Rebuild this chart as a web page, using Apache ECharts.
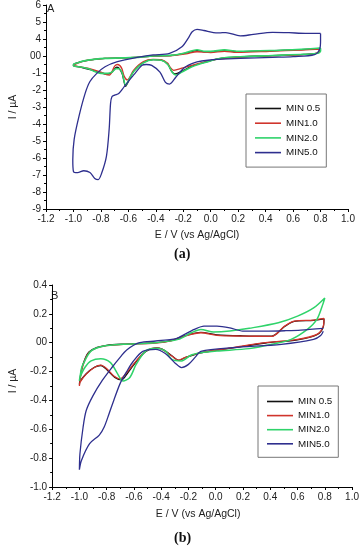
<!DOCTYPE html>
<html><head><meta charset="utf-8">
<script src="https://cdn.jsdelivr.net/npm/echarts@6/dist/echarts.min.js"></script>
<style>html,body{margin:0;padding:0;background:#fff}#c{width:362px;height:550px}</style>
</head><body><div id="c"></div>
<script>
var xLabels = ['-1.2','-1.0','-0.8','-0.6','-0.4','-0.2','0.0','0.2','0.4','0.6','0.8','1.0'];
var yLabelsA = ['-9','-8','-7','-6','-5','-4','-3','-2','-1','00','4','5','6'];
var yLabelsB = ['-1.0','-0.8','-0.6','-0.4','-0.2','00','0.2','0.4'];
var seriesNames = ['MIN 0.5','MIN1.0','MIN2.0','MIN5.0'];
var seriesColors = ['#111111','#d0342c','#2fd36a','#2e2f8e'];

// Panel A (values in axis units of panel A)
var a05 = [[0.80,0.42],[0.79,0.26],[0.77,0.15],[0.68,0.09],[0.45,0.02],[0.215,-0.05],[0.06,-0.15],[-0.02,-0.32],[-0.137,-0.6],[-0.21,-0.9],[-0.26,-1.05],[-0.285,-0.9],[-0.313,-0.48],[-0.36,-0.24],[-0.42,-0.21],[-0.49,-0.37],[-0.56,-0.88],[-0.60,-1.5],[-0.62,-1.78],[-0.645,-1.05],[-0.67,-0.7],[-0.685,-0.65],[-0.72,-0.95],[-0.75,-1.06],[-0.80,-1.0],[-0.87,-0.82],[-0.95,-0.65],[-1.0,-0.57],[-1.0,-0.51],[-0.95,-0.35],[-0.85,-0.2],[-0.77,-0.14],[-0.54,-0.08],[-0.42,0.0],[-0.28,0.04],[-0.18,0.17],[-0.10,0.32],[-0.05,0.25],[0.0,0.24],[0.1,0.33],[0.19,0.26],[0.43,0.3],[0.66,0.38],[0.80,0.44]];
var a10 = [[0.80,0.4],[0.79,0.25],[0.76,0.14],[0.68,0.08],[0.45,0.02],[0.215,-0.06],[0.05,-0.18],[-0.02,-0.3],[-0.137,-0.55],[-0.21,-0.72],[-0.27,-0.84],[-0.30,-0.62],[-0.313,-0.43],[-0.36,-0.22],[-0.42,-0.2],[-0.49,-0.33],[-0.56,-0.82],[-0.608,-1.41],[-0.63,-1.2],[-0.65,-0.7],[-0.678,-0.5],[-0.70,-0.6],[-0.737,-1.12],[-0.76,-1.1],[-0.80,-0.95],[-0.89,-0.73],[-0.96,-0.63],[-1.0,-0.55],[-1.0,-0.52],[-0.94,-0.33],[-0.85,-0.2],[-0.77,-0.14],[-0.54,-0.08],[-0.42,0.0],[-0.28,0.03],[-0.18,0.12],[-0.10,0.25],[0.0,0.2],[0.1,0.28],[0.19,0.22],[0.43,0.28],[0.66,0.35],[0.80,0.4]];
var a20 = [[0.80,0.45],[0.80,0.3],[0.78,0.16],[0.68,0.1],[0.45,0.03],[0.215,-0.04],[0.08,-0.12],[-0.02,-0.33],[-0.137,-0.63],[-0.21,-0.95],[-0.255,-1.12],[-0.28,-0.95],[-0.313,-0.5],[-0.36,-0.25],[-0.42,-0.22],[-0.49,-0.4],[-0.56,-0.9],[-0.60,-1.45],[-0.62,-1.72],[-0.645,-1.0],[-0.67,-0.75],[-0.69,-0.75],[-0.72,-0.95],[-0.75,-1.02],[-0.80,-1.02],[-0.85,-0.9],[-0.89,-0.75],[-0.96,-0.63],[-1.0,-0.58],[-1.0,-0.5],[-0.96,-0.38],[-0.93,-0.3],[-0.85,-0.2],[-0.77,-0.14],[-0.54,-0.08],[-0.42,0.0],[-0.28,0.05],[-0.18,0.2],[-0.10,0.37],[-0.05,0.28],[0.0,0.27],[0.1,0.36],[0.19,0.28],[0.43,0.32],[0.66,0.4],[0.80,0.47]];
var a50 = [[0.80,1.33],[0.80,0.9],[0.795,0.45],[0.756,0.08],[0.60,-0.04],[0.45,-0.08],[0.215,-0.14],[0.05,-0.2],[-0.02,-0.25],[-0.10,-0.35],[-0.137,-0.45],[-0.18,-0.62],[-0.21,-0.82],[-0.255,-1.25],[-0.30,-1.65],[-0.33,-1.55],[-0.37,-0.95],[-0.43,-0.55],[-0.47,-0.5],[-0.50,-0.55],[-0.56,-1.1],[-0.63,-1.8],[-0.67,-2.2],[-0.70,-2.3],[-0.72,-2.4],[-0.73,-2.8],[-0.74,-4.3],[-0.76,-5.9],[-0.795,-6.9],[-0.82,-7.27],[-0.845,-7.2],[-0.88,-6.85],[-0.925,-6.75],[-0.97,-6.86],[-1.0,-6.8],[-1.005,-6.1],[-0.995,-4.9],[-0.96,-3.55],[-0.915,-2.2],[-0.88,-1.5],[-0.83,-1.02],[-0.77,-0.63],[-0.68,-0.33],[-0.535,-0.08],[-0.42,0.06],[-0.30,0.16],[-0.21,0.55],[-0.16,1.1],[-0.135,1.43],[-0.10,1.57],[-0.05,1.5],[0.02,1.38],[0.06,1.36],[0.11,1.38],[0.215,1.18],[0.31,1.27],[0.45,1.39],[0.57,1.37],[0.69,1.33],[0.80,1.33]];

// Panel B (I / uA)
var b05 = [[-1.0,-0.29],[-0.985,-0.19],[-0.96,-0.115],[-0.93,-0.065],[-0.87,-0.033],[-0.80,-0.018],[-0.68,-0.01],[-0.44,0.0],[-0.32,0.017],[-0.228,0.048],[-0.109,0.072],[0.009,0.055],[0.198,0.048],[0.411,0.046],[0.505,0.112],[0.576,0.148],[0.718,0.155],[0.794,0.165],[0.789,0.11],[0.742,0.055],[0.60,0.02],[0.364,-0.002],[0.127,-0.036],[-0.109,-0.07],[-0.228,-0.105],[-0.27,-0.122],[-0.322,-0.09],[-0.393,-0.044],[-0.44,-0.036],[-0.512,-0.06],[-0.583,-0.13],[-0.65,-0.215],[-0.69,-0.258],[-0.74,-0.24],[-0.795,-0.19],[-0.843,-0.158],[-0.89,-0.17],[-0.95,-0.215],[-0.996,-0.27],[-1.0,-0.29]];
var b10 = [[-1.0,-0.30],[-0.985,-0.2],[-0.96,-0.12],[-0.93,-0.07],[-0.87,-0.035],[-0.80,-0.02],[-0.68,-0.012],[-0.44,-0.002],[-0.32,0.015],[-0.228,0.046],[-0.109,0.069],[0.009,0.051],[0.198,0.046],[0.411,0.044],[0.505,0.115],[0.576,0.15],[0.718,0.157],[0.794,0.168],[0.789,0.115],[0.742,0.058],[0.60,0.023],[0.364,0.0],[0.127,-0.034],[-0.109,-0.069],[-0.228,-0.103],[-0.275,-0.121],[-0.322,-0.092],[-0.393,-0.046],[-0.44,-0.036],[-0.512,-0.057],[-0.583,-0.126],[-0.653,-0.207],[-0.70,-0.25],[-0.748,-0.23],[-0.795,-0.184],[-0.843,-0.156],[-0.89,-0.172],[-0.95,-0.218],[-0.996,-0.276],[-1.0,-0.30]];
var b20 = [[-1.0,-0.264],[-0.985,-0.18],[-0.973,-0.149],[-0.914,-0.057],[-0.819,-0.023],[-0.677,-0.011],[-0.44,0.0],[-0.275,0.023],[-0.18,0.069],[-0.109,0.092],[-0.015,0.074],[0.104,0.081],[0.246,0.1],[0.459,0.138],[0.60,0.184],[0.718,0.241],[0.80,0.31],[0.789,0.276],[0.742,0.161],[0.672,0.092],[0.553,0.023],[0.411,-0.011],[0.246,-0.041],[0.009,-0.057],[-0.109,-0.069],[-0.18,-0.085],[-0.251,-0.126],[-0.322,-0.115],[-0.37,-0.057],[-0.44,-0.039],[-0.512,-0.057],[-0.583,-0.149],[-0.63,-0.241],[-0.68,-0.266],[-0.725,-0.207],[-0.772,-0.138],[-0.843,-0.112],[-0.914,-0.126],[-0.96,-0.172],[-0.996,-0.241],[-1.0,-0.264]];
var b50 = [[0.789,0.08],[0.77,0.05],[0.718,0.023],[0.482,-0.011],[0.127,-0.034],[-0.109,-0.06],[-0.15,-0.1],[-0.2,-0.15],[-0.251,-0.172],[-0.299,-0.14],[-0.37,-0.075],[-0.44,-0.046],[-0.535,-0.06],[-0.606,-0.13],[-0.653,-0.2],[-0.70,-0.28],[-0.748,-0.40],[-0.783,-0.494],[-0.819,-0.586],[-0.854,-0.64],[-0.925,-0.70],[-0.985,-0.816],[-1.0,-0.88],[-0.996,-0.77],[-0.973,-0.586],[-0.95,-0.47],[-0.902,-0.37],[-0.831,-0.26],[-0.76,-0.17],[-0.70,-0.10],[-0.653,-0.05],[-0.559,0.0],[-0.44,0.012],[-0.322,0.023],[-0.275,0.034],[-0.228,0.058],[-0.157,0.092],[-0.086,0.115],[0.009,0.115],[0.104,0.103],[0.198,0.081],[0.388,0.081],[0.505,0.083],[0.624,0.087],[0.789,0.099]];

var dataA = [a05, a10, a20, a50];
var dataB = [b05, b10, b20, b50];

var font = "'Liberation Sans', Arial, sans-serif";

function xAxisDef(gridIndex, nameGap, namePad){
  return {
    type:'value', gridIndex:gridIndex, min:-1.2, max:1.0, interval:0.2,
    axisLine:{show:true, onZero:false, lineStyle:{color:'#000',width:1}},
    axisTick:{show:true, inside:false, length:3, lineStyle:{color:'#000'}},
    minorTick:{show:true, splitNumber:2, length:2, lineStyle:{color:'#000'}},
    splitLine:{show:false},
    axisLabel:{fontSize:10, color:'#222', fontFamily:font, margin:5,
      formatter:function(v){ return xLabels[Math.round((v + 1.2) / 0.2)]; }},
    name:'E / V (vs Ag/AgCl)', nameLocation:'middle', nameGap:nameGap,
    nameTextStyle:{fontSize:10.5, color:'#222', fontFamily:font, padding:namePad}
  };
}

function legendDef(left, top, gap, pad){
  return {data:seriesNames, orient:'vertical', left:left, top:top, icon:'rect',
    itemWidth:26, itemHeight:1.6, itemGap:gap, padding:pad,
    borderColor:'#777', borderWidth:1, backgroundColor:'#fff',
    textStyle:{fontSize:9.8, lineHeight:11, color:'#111', fontFamily:font}};
}

var option = {
  animation:false,
  backgroundColor:'#fff',
  grid:[
    {left:36, top:5, width:312, height:204},
    {left:42, top:285, width:311, height:202}
  ],
  xAxis:[ xAxisDef(0, 21, [0,0,0,0]), xAxisDef(1, 22, [0,8,0,0]) ],
  yAxis:[
    {type:'value', gridIndex:0, min:-9, max:3, interval:1,
     axisLine:{show:true, onZero:false, lineStyle:{color:'#000',width:1}},
     axisTick:{show:true, length:3, lineStyle:{color:'#000'}},
     minorTick:{show:true, splitNumber:2, length:2, lineStyle:{color:'#000'}},
     splitLine:{show:false},
     axisLabel:{fontSize:10, color:'#222', fontFamily:font, margin:5,
       formatter:function(v){ return yLabelsA[Math.round(v + 9)]; }},
     name:'I / µA', nameLocation:'middle', nameRotate:90, nameGap:14,
     nameTextStyle:{fontSize:10.5, color:'#222', fontFamily:font}},
    {type:'value', gridIndex:1, min:-1.0, max:0.4, interval:0.2,
     axisLine:{show:true, onZero:false, lineStyle:{color:'#000',width:1}},
     axisTick:{show:true, length:3, lineStyle:{color:'#000'}},
     minorTick:{show:true, splitNumber:2, length:2, lineStyle:{color:'#000'}},
     splitLine:{show:false},
     axisLabel:{fontSize:10, color:'#222', fontFamily:font, margin:5,
       formatter:function(v){ return yLabelsB[Math.round((v + 1.0) / 0.2)]; }},
     name:'I / µA', nameLocation:'middle', nameRotate:90, nameGap:21,
     nameTextStyle:{fontSize:10.5, color:'#222', fontFamily:font, padding:[0,0,0,10]}}
  ],
  legend:[
    legendDef(246, 94, 3.7, [9,6,9,9]),
    legendDef(258, 386, 3.1, [10,6,8,9])
  ],
  graphic:[
    {type:'text', left:47, top:3, style:{text:'A', fontSize:11, fill:'#222', fontFamily:font}},
    {type:'text', left:51, top:290, style:{text:'B', fontSize:11, fill:'#222', fontFamily:font}},
    {type:'text', left:174, top:247, style:{text:'(a)', fontSize:14, fontWeight:'bold', fill:'#111', fontFamily:"'Liberation Serif', 'Times New Roman', serif"}},
    {type:'text', left:174, top:531, style:{text:'(b)', fontSize:14, fontWeight:'bold', fill:'#111', fontFamily:"'Liberation Serif', 'Times New Roman', serif"}}
  ],
  series:[]
};

for (var i = 0; i < seriesNames.length; i++) {
  var w = (i === 2) ? 1.6 : 1.3;
  option.series.push({type:'line', name:seriesNames[i], xAxisIndex:0, yAxisIndex:0, data:dataA[i],
    symbol:'none', smooth:0.3, color:seriesColors[i], lineStyle:{width:w, color:seriesColors[i]}});
}
for (var j = 0; j < seriesNames.length; j++) {
  var w2 = (j === 2) ? 1.5 : 1.3;
  option.series.push({type:'line', name:seriesNames[j], xAxisIndex:1, yAxisIndex:1, data:dataB[j],
    symbol:'none', smooth:0.3, color:seriesColors[j], lineStyle:{width:w2, color:seriesColors[j]}});
}

var chart = echarts.init(document.getElementById('c'), null, {renderer:'canvas'});
chart.setOption(option);
</script>
</body></html>
